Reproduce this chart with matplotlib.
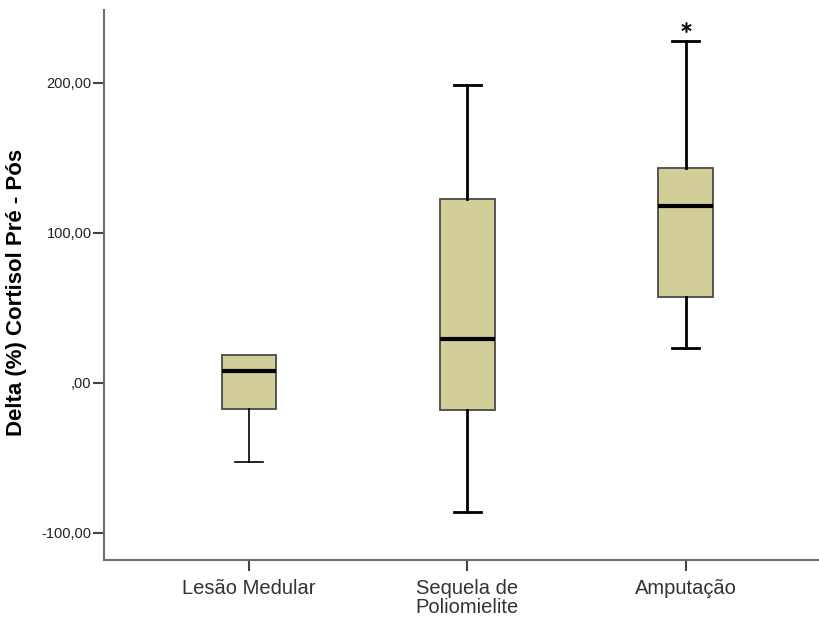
import numpy as np
import matplotlib
matplotlib.use("Agg")
import matplotlib.pyplot as plt

plt.rcParams['font.family'] = ['Liberation Sans', 'DejaVu Sans']

groups = ["Lesão Medular", "Sequela de\nPoliomielite", "Amputação"]
whislo = [-53.0, -86.5, 23.0]
q1 = [-17.7, -18.2, 57.0]
med = [7.8, 29.0, 117.8]
q3 = [18.5, 122.5, 143.3]
whishi = [18.5, 198.5, 227.6]
outliers = [[], [], [237.0]]

yticks = [-100, 0, 100, 200]
yticklabels = ["-100,00", ",00", "100,00", "200,00"]

fig = plt.figure(figsize=(8.19, 6.18), dpi=100)
ax = fig.add_axes([104/819, 58/618, 1 - 104/819, 550/618])

stats = []
for i in range(len(groups)):
    stats.append(dict(whislo=whislo[i], q1=q1[i], med=med[i], q3=q3[i],
                      whishi=whishi[i], fliers=outliers[i]))

pos = np.arange(1, len(groups) + 1)
bp = ax.bxp(stats, positions=pos, widths=0.25, capwidths=0.125,
            patch_artist=True, showfliers=True,
            boxprops=dict(facecolor='#d2ce98', edgecolor='#4a4a4a', linewidth=1.3),
            medianprops=dict(color='black', linewidth=3, solid_capstyle='butt'),
            whiskerprops=dict(color='black', linewidth=2),
            capprops=dict(color='black', linewidth=2),
            flierprops=dict(marker='$*$', markersize=7, markerfacecolor='black',
                            markeredgecolor='black', markeredgewidth=0.5))

# first group drawn with thin whiskers, no upper whisker
for ln in bp['whiskers'][0:2] + bp['caps'][0:2]:
    ln.set_linewidth(1.2)
bp['caps'][1].set_visible(False)

ax.set_xlim(0.336, 3.61)
ax.set_ylim(-118.2, 248.5)

ax.set_yticks(yticks)
ax.set_yticklabels(yticklabels, fontsize=10.5, color='#222222')
ax.set_xticks(pos)
ax.set_xticklabels(groups, fontsize=14.5, color='#333333', linespacing=0.97)

ax.tick_params(axis='y', length=8, width=1.5, color='#444444', pad=1)
ax.tick_params(axis='x', length=8, width=1.5, color='#444444', pad=6)

for s in ['top', 'right']:
    ax.spines[s].set_visible(False)
for s in ['left', 'bottom']:
    ax.spines[s].set_color('#6e6e6e')
    ax.spines[s].set_linewidth(1.5)

ax.set_ylabel("Delta (%) Cortisol Pré - Pós", fontsize=16, fontweight='bold')
ax.yaxis.set_label_coords((27 - 104) / 715, (560 - 292) / 550)

fig.savefig("out.png", dpi=100)
